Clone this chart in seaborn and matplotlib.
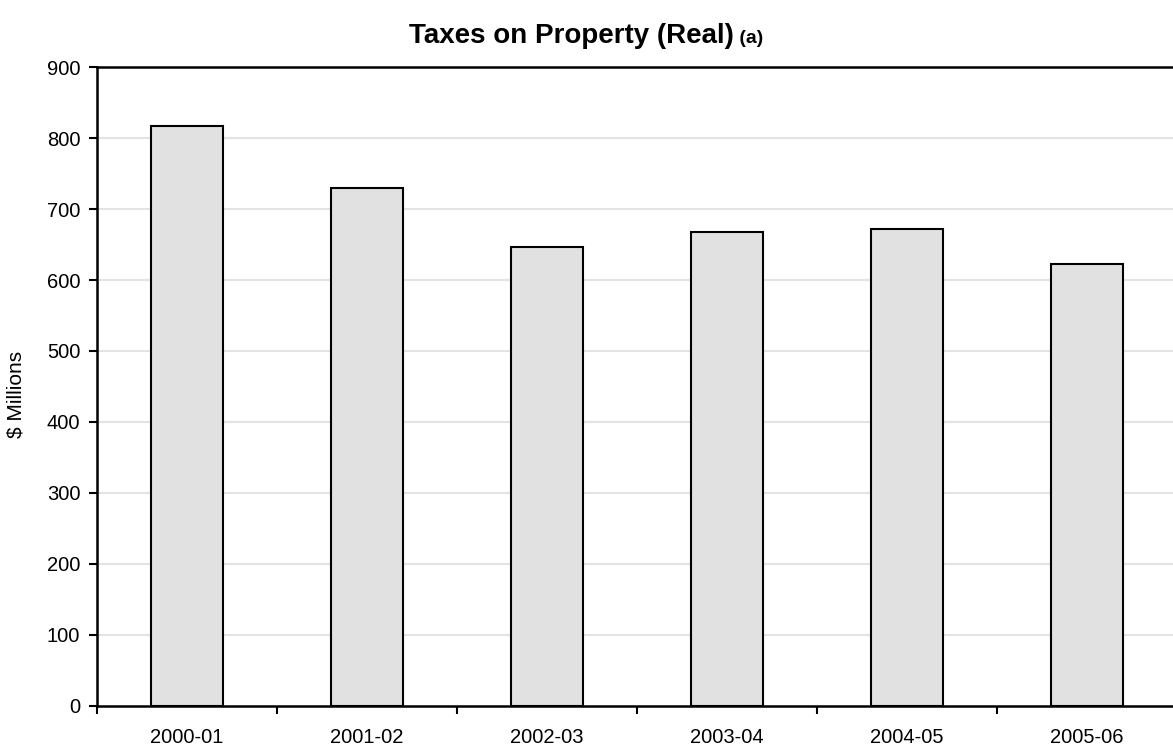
import matplotlib
matplotlib.use("Agg")
import matplotlib.pyplot as plt
import seaborn as sns
import pandas as pd
from matplotlib.ticker import FixedLocator, NullFormatter

years = ["2000-01", "2001-02", "2002-03", "2003-04", "2004-05", "2005-06"]
taxes_real = [817, 729, 646, 668, 672, 622]
y_ticks = [0, 100, 200, 300, 400, 500, 600, 700, 800, 900]

sns.set_theme(style="white")
plt.rcParams["font.family"] = ["Liberation Sans", "DejaVu Sans"]

df = pd.DataFrame({"Year": years, "Taxes": taxes_real})

fig = plt.figure(figsize=(11.73, 7.47), dpi=100)
ax = fig.add_axes([0.0827, 0.0549, 0.9207, 0.8554])

sns.barplot(data=df, x="Year", y="Taxes", ax=ax, width=0.4,
            color="#e1e1e1", saturation=1, edgecolor="black", linewidth=1.5,
            zorder=3)

ax.set_ylim(0, 900)
ax.set_xlim(-0.5, len(years) - 0.5)
ax.set_yticks(y_ticks)
ax.set_yticklabels([str(v) for v in y_ticks])

# category labels sit between boundary ticks
ax.xaxis.set_major_locator(FixedLocator([i + 0.5 for i in range(-1, len(years))]))
ax.xaxis.set_major_formatter(NullFormatter())
ax.xaxis.set_minor_locator(FixedLocator(range(len(years))))
ax.set_xticklabels(years, minor=True)
ax.tick_params(axis="x", which="major", direction="out", length=6, width=1.5,
               color="black", bottom=True)
ax.tick_params(axis="x", which="minor", length=0, labelsize=14.5, pad=16,
               labelcolor="black", bottom=True)
ax.tick_params(axis="y", direction="out", length=6, width=1.5, color="black",
               labelsize=14.5, labelcolor="black", left=True, pad=6)

for y in y_ticks[1:-1]:
    ax.axhline(y, color="#e3e3e3", linewidth=1.5, zorder=1)

for side in ["left", "bottom", "top"]:
    ax.spines[side].set_visible(True)
    ax.spines[side].set_color("black")
    ax.spines[side].set_linewidth(1.8)
ax.spines["right"].set_visible(False)

ax.set_xlabel("")
ax.set_ylabel("$ Millions", fontsize=15, color="black")
ax.yaxis.set_label_coords(-0.066, 0.487)

# title with a smaller note marker after it
fig.canvas.draw()
renderer = fig.canvas.get_renderer()
base_y = 1 - 43 / 747
main = fig.text(0.5, base_y, "Taxes on Property (Real)", fontsize=20,
                fontweight="bold", ha="center", va="baseline", color="black")
note = fig.text(0, base_y, " (a)", fontsize=14, fontweight="bold",
                ha="left", va="baseline", color="black")
w_main = main.get_window_extent(renderer).width
w_note = note.get_window_extent(renderer).width
fig_w = fig.get_figwidth() * fig.dpi
start = fig_w / 2 - (w_main + w_note) / 2
main.set_ha("left")
main.set_x(start / fig_w)
note.set_x((start + w_main) / fig_w)

fig.savefig("out.png", dpi=100)
